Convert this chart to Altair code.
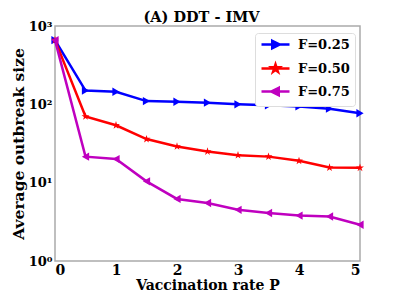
import altair as alt
import pandas as pd

p = [0, 0.5, 1, 1.5, 2, 2.5, 3, 3.5, 4, 4.5, 5]
f025 = [660, 150, 145, 110, 108, 105, 100, 97, 94, 88, 77]
f050 = [660, 70, 54, 36, 29, 25, 22.4, 21.5, 19, 15.6, 15.5]
f075 = [660, 21.5, 20, 10.4, 6.2, 5.5, 4.5, 4.1, 3.8, 3.7, 2.9]
series = ["F=0.25", "F=0.50", "F=0.75"]
colors = ["#0000ff", "#ff0000", "#bf00bf"]

star = "M0,-1L0.22,-0.31L0.95,-0.31L0.36,0.12L0.59,0.81L0,0.38L-0.59,0.81L-0.36,0.12L-0.95,-0.31L-0.22,-0.31Z"
shapes = ["triangle-right", star, "triangle-left"]
# legend symbols: a line segment with the marker in its middle
leg_shapes = [
    "M-1,0H4.6M1.15,-0.75L2.65,0L1.15,0.75Z",
    "M-1,0H4.6M1.8,-0.8L1.98,-0.25L2.56,-0.25L2.09,0.1L2.27,0.65L1.8,0.3L1.33,0.65L1.51,0.1L1.04,-0.25L1.62,-0.25Z",
    "M-1,0H4.6M2.45,-0.75L0.95,0L2.45,0.75Z",
]

rows = []
for name, vals in zip(series, [f025, f050, f075]):
    for x, y in zip(p, vals):
        rows.append({"P": x, "size": y, "F": name})
df = pd.DataFrame(rows)

FONT = "DejaVu Serif"
leg = alt.Legend(title=None, orient="none", legendX=200, legendY=7,
                 labelFont=FONT, labelFontWeight="bold", labelFontSize=13,
                 labelColor="black", strokeColor="#dddddd", fillColor="white",
                 padding=5, rowPadding=5, symbolSize=100, symbolStrokeWidth=2.5,
                 symbolOpacity=1, cornerRadius=3, labelOffset=25)

x = alt.X("P:Q", scale=alt.Scale(domain=[0, 5], nice=False),
          axis=alt.Axis(title="Vaccination rate P", values=[0, 1, 2, 3, 4, 5], grid=False,
                        format="d", labelFontSize=14, labelPadding=2,
                        titleFontSize=14, titlePadding=1))
y = alt.Y("size:Q", scale=alt.Scale(type="log", domain=[1, 1000], nice=False),
          axis=alt.Axis(title="Average outbreak size", values=[1, 10, 100, 1000], grid=False,
                        labelFontSize=13, labelPadding=3, titleFontSize=15.5, titlePadding=2,
                        labelExpr="datum.value==1?'10⁰':datum.value==10?'10¹':datum.value==100?'10²':'10³'"))

base = alt.Chart(df)
legend_layer = base.mark_point(opacity=0, filled=True).encode(
    x=x, y=y,
    color=alt.Color("F:N", scale=alt.Scale(domain=series, range=colors), legend=leg),
    stroke=alt.Stroke("F:N", scale=alt.Scale(domain=series, range=colors), legend=leg),
    shape=alt.Shape("F:N", scale=alt.Scale(domain=series, range=leg_shapes), legend=leg))

layers = [legend_layer]
for name, col in zip(series, colors):
    sub = base.transform_filter(alt.datum.F == name)
    layers.append(sub.mark_line(strokeWidth=2.5, color=col).encode(x=x, y=y))
for name, col, shp in zip(series, colors, shapes):
    sub = base.transform_filter(alt.datum.F == name)
    layers.append(sub.mark_point(filled=True, size=70, opacity=1, color=col, shape=shp).encode(x=x, y=y))

chart = alt.layer(*layers).properties(
    width=305, height=235,
    title=alt.Title("(A) DDT - IMV", font=FONT, fontSize=14.5, fontWeight="bold", color="black",
                    offset=2, dx=-6, dy=7, frame="group"),
    autosize=alt.AutoSizeParams(type="none"),
    padding={"left": 47, "top": 18, "right": 30, "bottom": 31},
).configure_view(stroke="#aaaaaa", strokeWidth=1.5).configure_axis(
    labelFont=FONT, labelFontWeight="bold", labelColor="black",
    titleFont=FONT, titleFontWeight="bold", titleColor="black",
    domain=False, ticks=False,
)

chart.save("out.html", embed_options={"renderer": "svg", "actions": False})
